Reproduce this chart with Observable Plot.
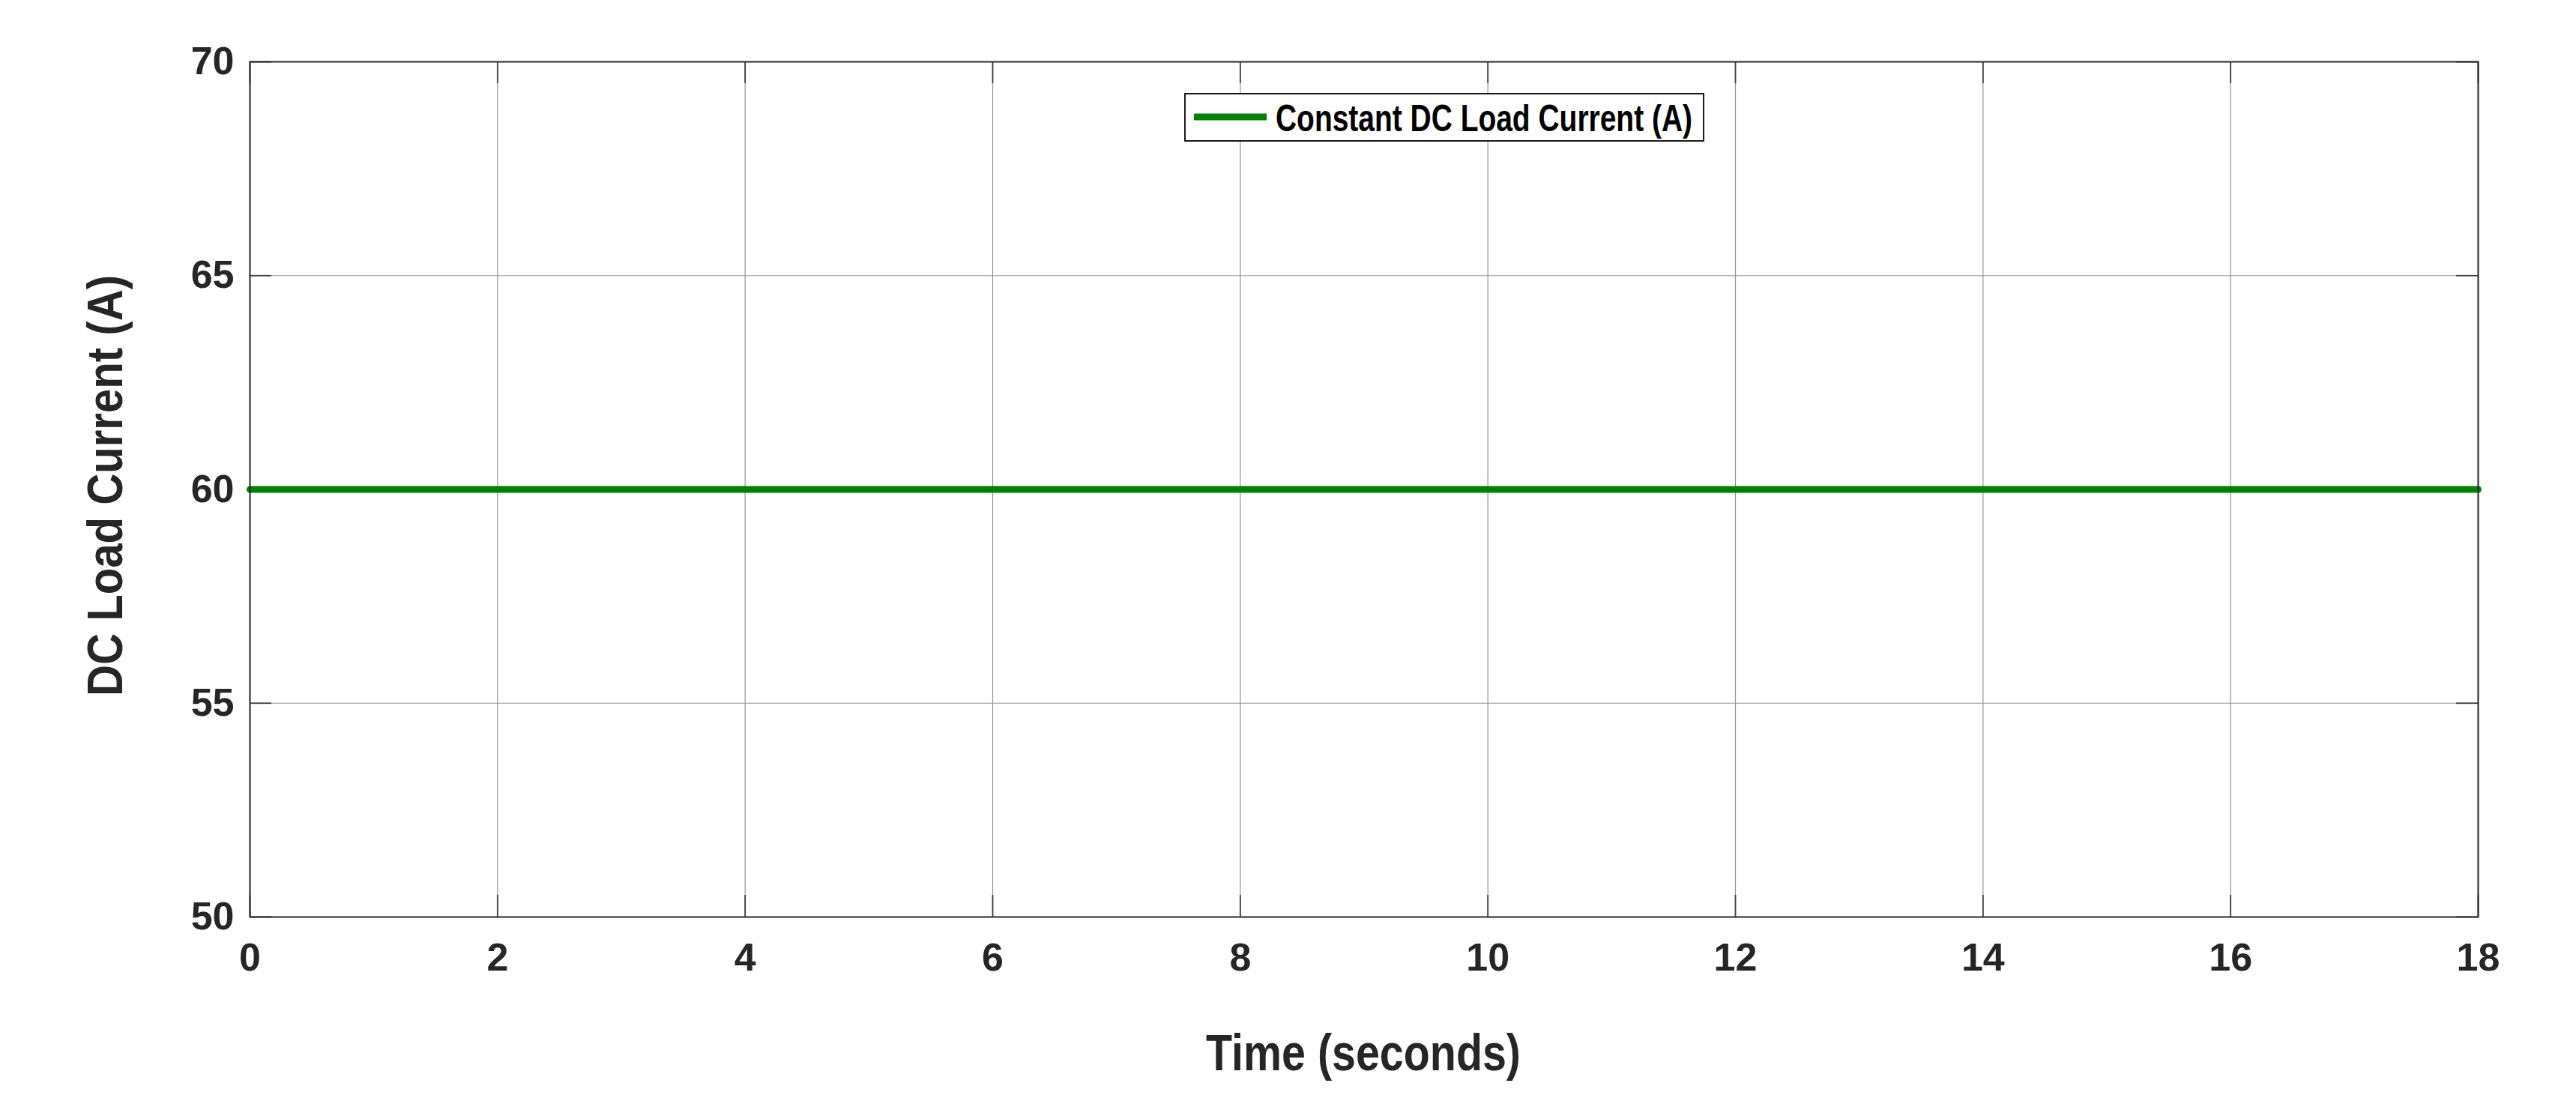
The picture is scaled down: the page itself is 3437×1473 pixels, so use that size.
<!DOCTYPE html>
<html>
<head>
<meta charset="utf-8">
<script src="https://cdn.jsdelivr.net/npm/d3@7"></script>
<script src="https://cdn.jsdelivr.net/npm/@observablehq/plot@0.6"></script>
<style>
  html, body { margin: 0; padding: 0; background: #ffffff; }
  #chart { position: relative; width: 3437px; height: 1473px; }
</style>
</head>
<body>
<div id="chart"></div>
<script>
// ---- data ----
const timeSeconds = [0, 18];
const loadCurrent = [60, 60];
const seriesName = "Constant DC Load Current (A)";
const xTicks = [0, 2, 4, 6, 8, 10, 12, 14, 16, 18];
const yTicks = [50, 55, 60, 65, 70];
const xLabel = "Time (seconds)";
const yLabel = "DC Load Current (A)";

const rows = timeSeconds.map((t, i) => ({t, v: loadCurrent[i]}));

const W = 3437, H = 1473;
const mL = 333, mR = 131, mT = 82, mB = 250;
const innerW = W - mL - mR, innerH = H - mT - mB;
const tickLen = 29;
const dark = "#262626";

const plot = Plot.plot({
  width: W,
  height: H,
  marginLeft: mL,
  marginRight: mR,
  marginTop: mT,
  marginBottom: mB,
  style: {fontFamily: "'Liberation Sans', Arial, Helvetica, sans-serif", background: "#ffffff", color: dark},
  x: {domain: [0, 18]},
  y: {domain: [50, 70]},
  marks: [
    Plot.gridX(xTicks, {stroke: "#939393", strokeOpacity: 1, strokeWidth: 1.2}),
    Plot.gridY(yTicks, {stroke: "#939393", strokeOpacity: 1, strokeWidth: 1.2}),
    // inward tick marks on all four sides
    Plot.tickX(xTicks, {x: d => d, insetTop: innerH - tickLen, stroke: "#404040", strokeWidth: 1.8}),
    Plot.tickX(xTicks, {x: d => d, insetBottom: innerH - tickLen, stroke: "#404040", strokeWidth: 1.8}),
    Plot.tickY(yTicks, {y: d => d, insetRight: innerW - tickLen, stroke: "#404040", strokeWidth: 1.8}),
    Plot.tickY(yTicks, {y: d => d, insetLeft: innerW - tickLen, stroke: "#404040", strokeWidth: 1.8}),
    Plot.axisX({ticks: xTicks, tickSize: 0, tickPadding: 35, fontSize: 52, fontWeight: "bold", fill: dark, label: null, tickFormat: d => String(d)}),
    Plot.axisY({ticks: yTicks, tickSize: 0, tickPadding: 21, fontSize: 52, fontWeight: "bold", fill: dark, label: null, tickFormat: d => String(d)}),
    Plot.lineY(rows, {x: "t", y: "v", stroke: "#008000", strokeWidth: 9}),
    Plot.frame({stroke: dark, strokeWidth: 2})
  ]
});

document.getElementById("chart").appendChild(plot);

const svg = d3.select(plot);
const narrow = "'Liberation Sans Narrow', 'Liberation Sans', Arial, sans-serif";

// axis titles
svg.append("text")
  .attr("x", 1819).attr("y", 1428)
  .attr("text-anchor", "middle")
  .attr("font-family", narrow)
  .attr("font-weight", "bold")
  .attr("font-size", 68)
  .attr("fill", dark)
  .attr("textLength", 420)
  .attr("lengthAdjust", "spacingAndGlyphs")
  .text(xLabel);

svg.append("text")
  .attr("transform", "translate(163,648) rotate(-90)")
  .attr("text-anchor", "middle")
  .attr("font-family", narrow)
  .attr("font-weight", "bold")
  .attr("font-size", 67)
  .attr("fill", dark)
  .attr("textLength", 562)
  .attr("lengthAdjust", "spacingAndGlyphs")
  .text(yLabel);

// legend
const lg = svg.append("g").attr("aria-label", "legend");
lg.append("rect")
  .attr("x", 1581).attr("y", 125).attr("width", 692).attr("height", 63)
  .attr("fill", "#ffffff").attr("stroke", "#000000").attr("stroke-width", 1.8);
lg.append("line")
  .attr("x1", 1593).attr("x2", 1690).attr("y1", 156).attr("y2", 156)
  .attr("stroke", "#008000").attr("stroke-width", 9);
lg.append("text")
  .attr("x", 1702).attr("y", 175)
  .attr("text-anchor", "start")
  .attr("font-family", narrow)
  .attr("font-weight", "bold")
  .attr("font-size", 50)
  .attr("fill", "#000000")
  .attr("textLength", 556)
  .attr("lengthAdjust", "spacingAndGlyphs")
  .text(seriesName);
</script>
</body>
</html>
